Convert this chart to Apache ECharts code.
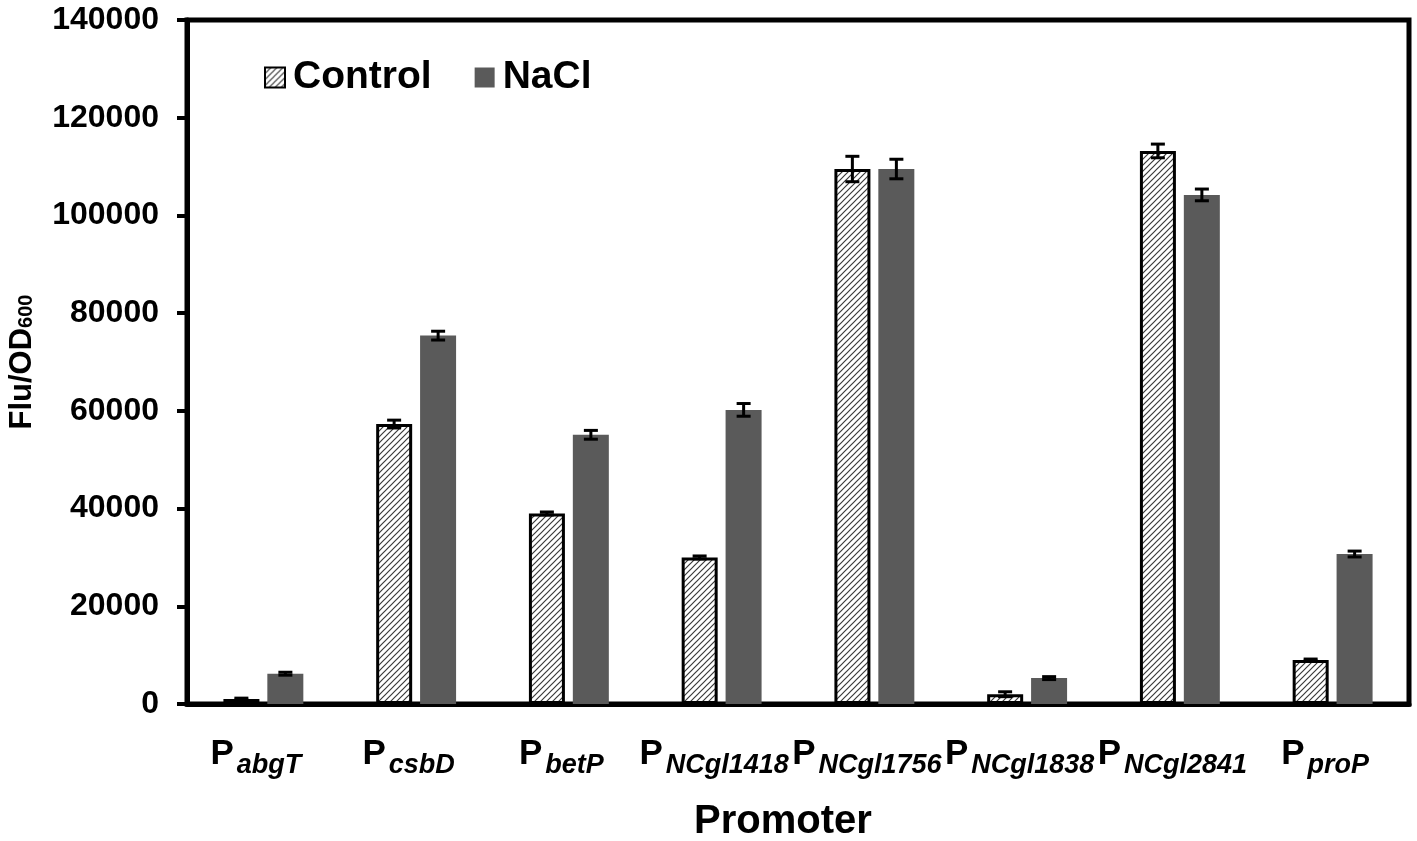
<!DOCTYPE html>
<html>
<head>
<meta charset="utf-8">
<script src="https://cdn.jsdelivr.net/npm/echarts@6/dist/echarts.min.js"></script>
<style>
html,body{margin:0;padding:0;background:#fff}
#bar{width:1417px;height:841px}
</style>
</head>
<body>
<div id="bar"></div>
<script>
// promoter names (shown as subscript after P)
let promoters = ['abgT','csbD','betP','NCgl1418','NCgl1756','NCgl1838','NCgl2841','proP']
let controlVals = [1000, 57300, 39000, 30000, 109500, 2000, 113200, 9000]
let controlErr  = [200, 800, 300, 300, 2600, 500, 1400, 200]
let naclVals = [6200, 75400, 55100, 60200, 109500, 5300, 104200, 30700]
let naclErr  = [300, 900, 900, 1300, 2000, 300, 1200, 600]
let yTicks = [0, 20000, 40000, 60000, 80000, 100000, 120000, 140000]

let font = '"Liberation Sans", Arial, sans-serif'

//diagonal hatch for the control bars
function hatch() {
	let c = document.createElement('canvas')
	c.width = 6
	c.height = 6
	let g = c.getContext('2d')
	g.fillStyle = '#fff'
	g.fillRect(0, 0, 6, 6)
	g.strokeStyle = '#3a3a3a'
	g.lineWidth = 1.2
	g.beginPath()
	g.moveTo(0, 6); g.lineTo(6, 0)
	g.moveTo(-1, 1); g.lineTo(1, -1)
	g.moveTo(5, 7); g.lineTo(7, 5)
	g.stroke()
	return c
}

function errBars(offset) {
	return function(params, api) {
		let x = api.coord([api.value(0), 0])[0] + offset
		let m = api.value(1), e = api.value(2)
		let hi = api.coord([api.value(0), m + e])[1]
		let lo = api.coord([api.value(0), m - e])[1]
		let st = {stroke: '#000', lineWidth: 3}
		return {
			type: 'group',
			children: [
				{type: 'line', shape: {x1: x, y1: hi, x2: x, y2: lo}, style: st},
				{type: 'line', shape: {x1: x - 7, y1: hi, x2: x + 7, y2: hi}, style: st},
				{type: 'line', shape: {x1: x - 7, y1: lo, x2: x + 7, y2: lo}, style: st}
			]
		}
	}
}

function makeChart() {
	let chart = echarts.init(document.getElementById('bar'))
	let hatchFill = {image: hatch(), repeat: 'repeat'}
	let option = {
		animation: false,
		textStyle: {fontFamily: font},
		grid: {
			left: 187, right: 8, top: 20, bottom: 137,
			containLabel: false,
			outerBoundsMode: 'none',
			show: true, borderColor: '#000', borderWidth: 5
		},
		legend: {
			data: ['Control', 'NaCl'],
			left: 259, top: 53,
			icon: 'rect',
			itemWidth: 20, itemHeight: 20, itemGap: 43,
			textStyle: {fontSize: 39, fontWeight: 'bold', color: '#000', fontFamily: font, padding: [0, 0, 0, 3]}
		},
		xAxis: {
			type: 'category',
			data: promoters,
			name: 'Promoter',
			nameLocation: 'middle',
			nameGap: 98,
			nameTextStyle: {fontSize: 40, fontWeight: 'bold', color: '#000', fontFamily: font, padding: [0, 30, 0, 0]},
			axisLine: {lineStyle: {color: '#000', width: 5}},
			axisTick: {length: 11, lineStyle: {color: '#000', width: 4}},
			axisLabel: {
				margin: 33,
				interval: 0,
				padding: [0, 15, 0, 0],
				formatter: function(v) { return '{p|P}{s|' + v + '}' },
				rich: {
					p: {fontSize: 35, fontWeight: 'bold', color: '#000', fontFamily: font, lineHeight: 34, verticalAlign: 'top'},
					s: {fontSize: 27, fontWeight: 'bold', fontStyle: 'italic', color: '#000', fontFamily: font, lineHeight: 28, padding: [24, 0, 0, 3]}
				}
			}
		},
		yAxis: {
			type: 'value',
			min: yTicks[0],
			max: yTicks[yTicks.length - 1],
			interval: yTicks[1] - yTicks[0],
			name: '{a|Flu/OD}{b|600}',
			nameLocation: 'middle',
			nameRotate: 90,
			nameGap: 149,
			nameTextStyle: {
				rich: {
					a: {fontSize: 31, fontWeight: 'bold', color: '#000', fontFamily: font},
					b: {fontSize: 20, fontWeight: 'bold', color: '#000', fontFamily: font, padding: [8, 0, 0, 0]}
				}
			},
			splitLine: {show: false},
			axisLine: {show: true, lineStyle: {color: '#000', width: 5}},
			axisTick: {show: true, length: 10, lineStyle: {color: '#000', width: 4}},
			axisLabel: {
				margin: 28, fontSize: 32, fontWeight: 'bold', color: '#000', fontFamily: font,
				formatter: function(v) { return String(v) }
			}
		},
		series: [
			{
				name: 'Control',
				type: 'bar',
				data: controlVals,
				barWidth: 36,
				barGap: '22%',
				itemStyle: {color: hatchFill, borderColor: '#000', borderWidth: 3}
			},
			{
				name: 'NaCl',
				type: 'bar',
				data: naclVals,
				barWidth: 36,
				itemStyle: {color: '#5a5a5a'}
			},
			{
				type: 'custom',
				z: 5,
				renderItem: errBars(-22),
				data: controlVals.map((v, i) => [i, v, controlErr[i]])
			},
			{
				type: 'custom',
				z: 5,
				renderItem: errBars(22),
				data: naclVals.map((v, i) => [i, v, naclErr[i]])
			}
		]
	}
	chart.setOption(option)
}

window.onload = function() {
	makeChart()
}
</script>
</body>
</html>
